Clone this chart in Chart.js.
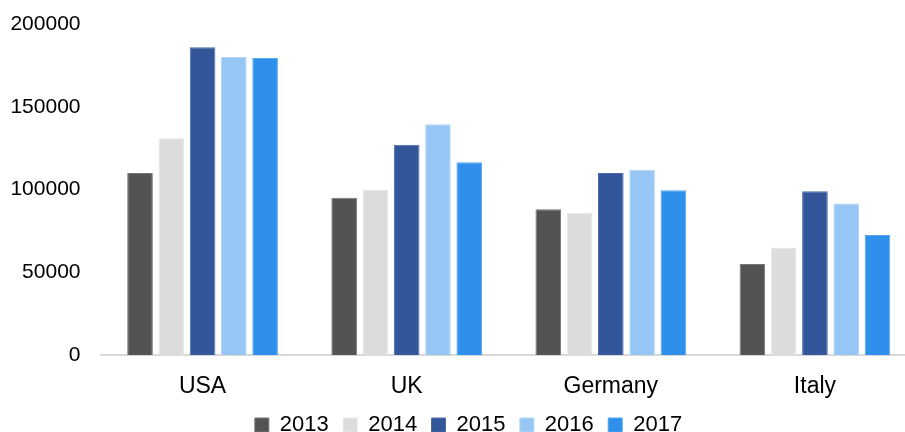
<!DOCTYPE html>
<html>
<head>
<meta charset="utf-8">
<script src="https://cdn.jsdelivr.net/npm/chart.js@4/dist/chart.umd.min.js"></script>
<style>
  html, body { margin: 0; padding: 0; background: #fff; overflow: hidden; }
  #wrap { position: absolute; left: 0; top: 0; width: 937px; height: 446px; }
</style>
</head>
<body>
<div id="wrap"><canvas id="salesChart" width="937" height="446"></canvas></div>
<script>
const countries = ['USA', 'UK', 'Germany', 'Italy'];
const years = ['2013', '2014', '2015', '2016', '2017'];

const values2013 = [110000, 95000, 88000, 55000];
const values2014 = [131000, 100000, 86000, 65000];
const values2015 = [186000, 127000, 110000, 99000];
const values2016 = [180000, 139500, 112000, 91500];
const values2017 = [179500, 116500, 99500, 72500];

const yTicks = [0, 50000, 100000, 150000, 200000];

const fills = ['#535353', '#dcdcdc', '#33569a', '#95c6f4', '#2e90eb'];
const edges = ['#767676', '#e9e9e9', '#4a6aa8', '#b5d7f8', '#58a7f0'];

const seriesValues = [values2013, values2014, values2015, values2016, values2017];

// legend sits a bit right of the plot centre in the original
const legendShift = {
  id: 'legendShift',
  afterLayout(chart) {
    chart.legend.left += 10;
    chart.legend.right += 10;
  }
};

const ctx = document.getElementById('salesChart').getContext('2d');

new Chart(ctx, {
  type: 'bar',
  data: {
    labels: countries,
    datasets: years.map((year, i) => ({
      label: year,
      data: seriesValues[i],
      backgroundColor: fills[i],
      borderColor: edges[i],
      borderWidth: 1,
      categoryPercentage: 0.766,
      barPercentage: 0.82
    }))
  },
  options: {
    responsive: false,
    animation: false,
    layout: {
      padding: { left: 0, right: 20, top: 0, bottom: 0 }
    },
    scales: {
      x: {
        grid: { display: false, drawTicks: false },
        border: { display: true, color: '#d9d9d9', width: 2 },
        afterFit: scale => { scale.height = 44.6; },
        ticks: {
          color: '#000',
          padding: 18,
          font: { family: 'Liberation Sans, Arial, sans-serif', size: 23 }
        }
      },
      y: {
        min: 0,
        max: 200000,
        grid: { display: false, drawTicks: false },
        border: { display: false },
        afterFit: scale => {
          scale.width = 100.5;
          scale.paddingTop = 24;
          scale.paddingBottom = 0;
        },
        afterBuildTicks: scale => { scale.ticks = yTicks.map(v => ({ value: v })); },
        ticks: {
          color: '#000',
          padding: 20,
          callback: v => String(v),
          font: { family: 'Liberation Sans, Arial, sans-serif', size: 21 }
        }
      }
    },
    plugins: {
      legend: {
        position: 'bottom',
        labels: {
          color: '#000',
          boxWidth: 14,
          boxHeight: 14,
          padding: 14.4,
          font: { family: 'Liberation Sans, Arial, sans-serif', size: 22 }
        }
      },
      tooltip: { enabled: false }
    }
  },
  plugins: [legendShift]
});
</script>
</body>
</html>
